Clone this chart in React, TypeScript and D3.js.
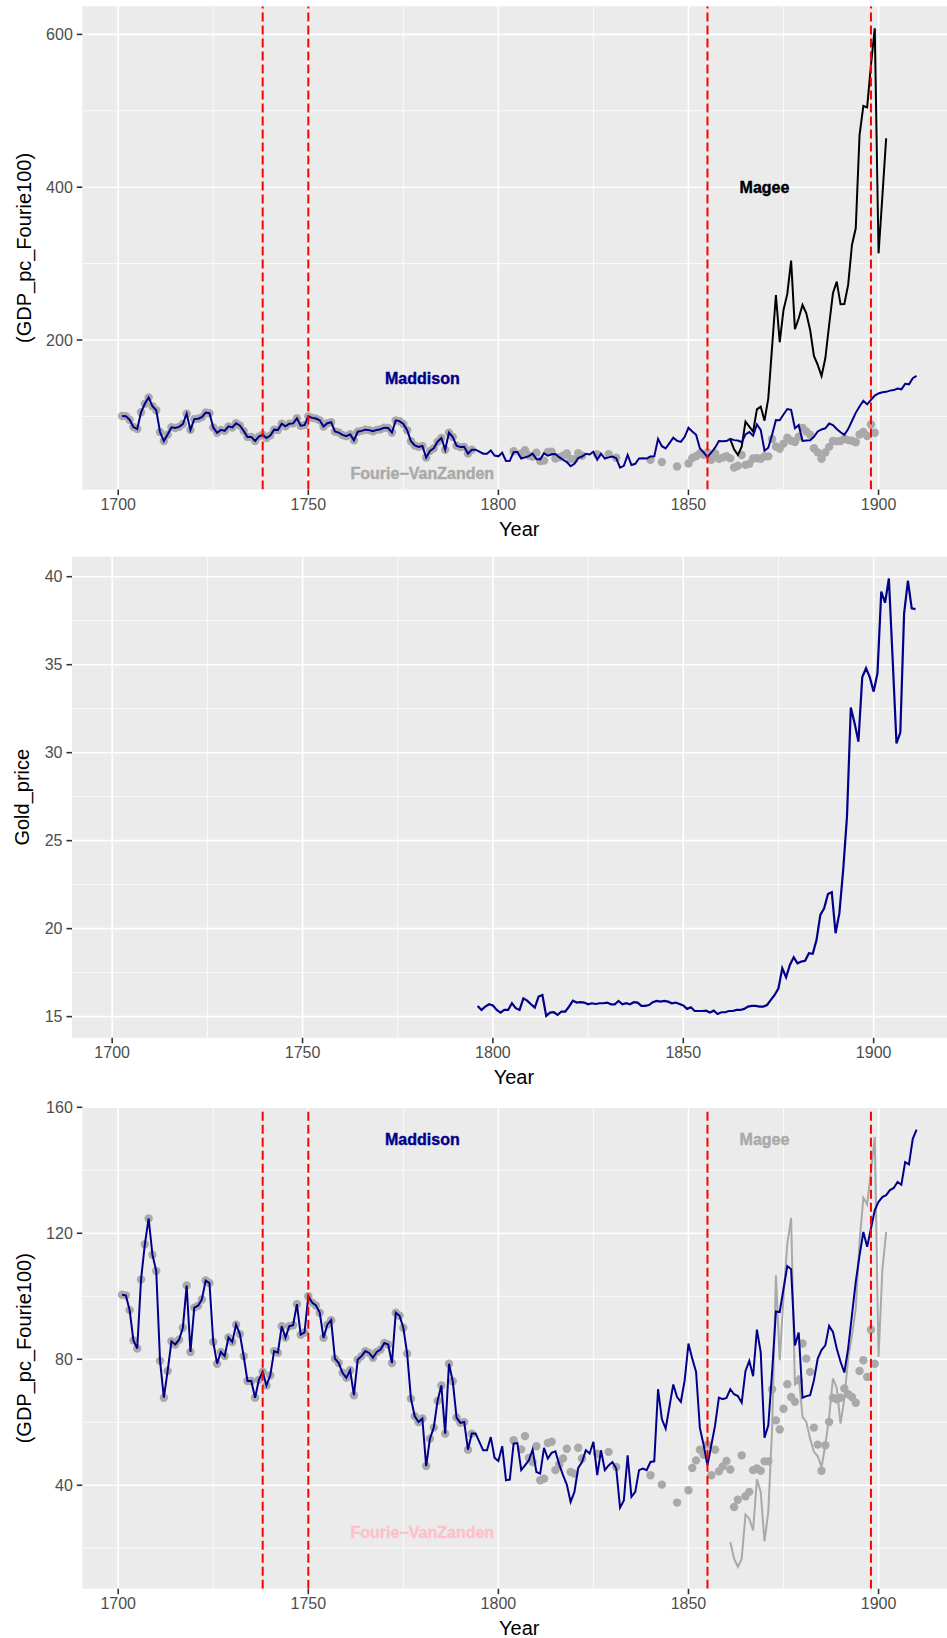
import React from "react";
import * as d3 from "d3";

// Maddison GDP per capita (Fourie100), yearly 1701-1910
const maddisonYears = d3.range(1701, 1911);
const maddison = [
  100.5, 100.3, 95.6, 86, 83.4, 105.3, 116.5, 124.7, 113.2, 108,
  79.5, 67.8, 76.3, 85.7, 84.7, 86.2, 90, 103.4, 82.3, 96.4,
  97, 99, 105, 104.2, 85.5, 78.6, 82.3, 81, 86.9, 85.5,
  91, 88, 81, 73.1, 73.1, 67.8, 73.5, 76, 71.7, 74.9,
  82.6, 82.1, 90.5, 86.9, 90.5, 90.8, 97.5, 87.8, 88.5, 100,
  98, 97.1, 94.8, 86.8, 91, 92.4, 80.2, 78.8, 75.7, 74.1,
  76.5, 68.6, 79.9, 81, 82.6, 82, 80.5, 82.3, 83.1, 85.2,
  84.7, 78.8, 94.8, 93.8, 90, 81.8, 67.5, 61.9, 60.1, 61.2,
  46.1, 54.8, 58.3, 66.8, 71.7, 56.4, 78.6, 73, 61.5, 59.8,
  60.1, 51.3, 56.4, 56.4, 53.8, 51.1, 51.1, 55.3, 48.7, 47.7,
  52.4, 41.6, 41.8, 53.2, 53.4, 44.8, 46.3, 47.9, 51.3, 44.2,
  43.7, 51.9, 48.5, 50.3, 50.8, 46.6, 43.2, 40.2, 34.7, 37.9,
  45.5, 47.4, 51.1, 50.1, 53.8, 43.2, 51.1, 44.8, 46.3, 47.4,
  45.3, 32.9, 35.2, 49.5, 36.3, 37.9, 44.8, 45.3, 44.8, 47.4,
  47.6, 70.5, 61, 58, 65, 72, 68, 66.5, 73.3, 85,
  80.2, 76, 58.2, 52.7, 46.3, 52.7, 59, 67.8, 67.3, 67.7,
  70.5, 68.9, 68.3, 66.2, 76.3, 79.5, 74.6, 89.4, 82.3, 55.1,
  59, 76, 95.2, 95, 102.4, 109.6, 108.6, 84.4, 88.5, 67.8,
  68.3, 68.6, 73.3, 80.2, 82.9, 84.4, 90.6, 88.7, 83.4, 79.2,
  75.8, 83.4, 94, 104.6, 113, 120.4, 115.7, 121.5, 127.3, 130,
  131.5, 132.1, 133.7, 134.4, 136.3, 135.4, 142.6, 141.9, 150, 152.9,
];

// Fourie-VanZanden points
const fourieYears = [
  ...d3.range(1701, 1794),
  1804, 1806, 1807, 1808, 1809, 1810, 1811, 1812, 1813, 1814,
  1815, 1816, 1817, 1818, 1819, 1820, 1821, 1822, 1826, 1829,
  1831, 1840, 1843, 1847, 1850,
  ...d3.range(1851, 1900),
];
const fourie = [
  100.5, 100.3, 95.6, 86, 83.4, 105.3, 116.5, 124.7, 113.2, 108,
  79.5, 67.8, 76.3, 85.7, 84.7, 86.2, 90, 103.4, 82.3, 96.4,
  97, 99, 105, 104.2, 85.5, 78.6, 82.3, 81, 86.9, 85.5,
  91, 88, 81, 73.1, 73.1, 67.8, 73.5, 76, 71.7, 74.9,
  82.6, 82.1, 90.5, 86.9, 90.5, 90.8, 97.5, 87.8, 88.5, 100,
  98, 97.1, 94.8, 86.8, 91, 92.4, 80.2, 78.8, 75.7, 74.1,
  76.5, 68.6, 79.9, 81, 82.6, 82, 80.5, 82.3, 83.1, 85.2,
  84.7, 78.8, 94.8, 93.8, 90, 81.8, 67.5, 61.9, 60.1, 61.2,
  46.1, 54.8, 58.3, 66.8, 71.7, 56.4, 78.6, 73, 61.5, 59.8,
  60.1, 51.3, 56.4,
  54.3, 51.4, 55.6, 48.7, 47.4, 52.4, 41.6, 42.1, 53.4, 53.8,
  44.8, 46.6, 48.5, 51.6, 44.2, 43.7, 51.9, 48.5, 50, 50.6,
  45.8, 43.2, 40.2, 34.5, 38.4,
  45.5, 47.9, 51.3, 49.7, 52.9, 43.2, 51.3, 44.4, 46, 47.7, 45,
  33.1, 35.4, 49.5, 36.5, 37.9, 44.8, 45.3, 44.6, 47.6, 47.6,
  70.5, 60.6, 57.7, 64.3, 72.1, 68, 66.5, 73.3, 85, 80.2,
  76, 58.3, 52.9, 44.6, 52.7, 60.1, 67.8, 67.3, 67.8, 70.7,
  68.9, 68, 66.2, 76.3, 79.7, 74.4, 89.4, 78.6,
];

// Magee series, 1861-1902 (top panel and bottom panel versions)
const mageeYears = d3.range(1861, 1903);
const mageeTop = [
  70, 56.9, 49.5, 60.4, 93.1, 86.6, 80, 109.2, 112.8, 94.4,
  123.6, 191.3, 258.9, 197, 239.3, 260.3, 303.8, 214, 228.4, 245.8,
  234.9, 213.1, 179.1, 167.3, 152.9, 176, 219.6, 261.1, 276.4, 246.7,
  247.1, 272, 324.3, 346.2, 468.3, 506.3, 504.5, 560, 608, 313.4,
  387.6, 464,
];
const mageeBottom = [
  22, 16.7, 14.1, 16.7, 30.7, 29.4, 25.7, 41.9, 37.9, 22.2,
  31.5, 58, 106.7, 79.7, 100, 116.7, 124.9, 71.7, 74.9, 61.7,
  60.1, 54.8, 50.6, 49.2, 45.8, 52.7, 61.7, 73.9, 70.9, 59.6,
  67.5, 80.2, 87.6, 96.1, 117.2, 131.3, 129.2, 139.5, 150.6, 80.7,
  108.3, 120.4,
];

// Gold price, 1796-1911
const goldYears = d3.range(1796, 1912);
const goldPrice = [
  15.61, 15.38, 15.57, 15.7, 15.63, 15.38, 15.23, 15.38, 15.38, 15.76,
  15.48, 15.38, 16.04, 15.91, 15.7, 15.51, 16.14, 16.23, 15.04, 15.23,
  15.25, 15.1, 15.29, 15.29, 15.57, 15.91, 15.8, 15.82, 15.8, 15.7,
  15.76, 15.72, 15.76, 15.76, 15.8, 15.7, 15.7, 15.89, 15.7, 15.76,
  15.7, 15.82, 15.8, 15.61, 15.61, 15.66, 15.82, 15.89, 15.85, 15.89,
  15.85, 15.76, 15.8, 15.72, 15.63, 15.44, 15.53, 15.32, 15.32, 15.32,
  15.34, 15.23, 15.34, 15.15, 15.25, 15.25, 15.32, 15.32, 15.38, 15.38,
  15.44, 15.57, 15.61, 15.61, 15.57, 15.57, 15.66, 15.95, 16.23, 16.61,
  17.75, 17.24, 17.94, 18.37, 18.03, 18.13, 18.17, 18.6, 18.57, 19.36,
  20.78, 21.16, 21.97, 22.07, 19.74, 20.88, 23.34, 26.37, 32.56, 31.67,
  30.63, 34.28, 34.8, 34.28, 33.47, 34.51, 39.15, 38.52, 39.9, 35.27,
  30.53, 31.14, 37.92, 39.77, 38.2, 38.16,
];

const eventYears = [1738, 1750, 1855, 1898];
const yearTicks = [1700, 1750, 1800, 1850, 1900];
const gdpTopTicks = [200, 400, 600];
const goldTicks = [15, 20, 25, 30, 35, 40];
const gdpBottomTicks = [40, 80, 120, 160];

const FONT = "'Liberation Sans', Arial, Helvetica, sans-serif";
const NAVY = "#00008B";
const DARKGRAY = "#A9A9A9";

const expand = (vals: number[]): [number, number] => {
  const [lo, hi] = d3.extent(vals) as [number, number];
  const pad = (hi - lo) * 0.05;
  return [lo - pad, hi + pad];
};

function minorBreaks(ticks: number[]) {
  const step = ticks[1] - ticks[0];
  return [ticks[0] - step / 2, ...ticks.map((t) => t + step / 2)];
}

// scales
const xGdp = d3.scaleLinear().domain(expand(maddisonYears)).range([82.3, 956.3]);
const xGold = d3.scaleLinear().domain(expand([1700, ...goldYears])).range([72, 955.7]);
const yTop = d3
  .scaleLinear()
  .domain(expand([...maddison, ...fourie, ...mageeTop]))
  .range([489.6, 6.3]);
const yGold = d3.scaleLinear().domain(expand(goldPrice)).range([1037.8, 556.6]);
const yBottom = d3
  .scaleLinear()
  .domain(expand([...maddison, ...fourie, ...mageeBottom]))
  .range([1588.7, 1107.8]);

type PanelProps = {
  id: string;
  x: d3.ScaleLinear<number, number>;
  y: d3.ScaleLinear<number, number>;
  yTicks: number[];
  yTitle: string;
  yTitleX: number;
  children?: React.ReactNode;
};

function Panel({ id, x, y, yTicks, yTitle, yTitleX, children }: PanelProps) {
  const [left, right] = x.range();
  const [bottom, top] = y.range();
  const [dx0, dx1] = x.domain();
  const [dy0, dy1] = y.domain();
  const xMinor = minorBreaks(yearTicks).filter((v) => v > dx0 && v < dx1);
  const yMinor = minorBreaks(yTicks).filter((v) => v > dy0 && v < dy1);
  const xMajor = yearTicks.filter((v) => v >= dx0 && v <= dx1);
  return (
    <g>
      <defs>
        <clipPath id={id}>
          <rect x={left} y={top} width={right - left} height={bottom - top} />
        </clipPath>
      </defs>
      <rect x={left} y={top} width={right - left} height={bottom - top} fill="#EBEBEB" />
      <g stroke="#FFFFFF" strokeWidth={0.8}>
        {xMinor.map((v) => (
          <line key={"xm" + v} x1={x(v)} x2={x(v)} y1={top} y2={bottom} />
        ))}
        {yMinor.map((v) => (
          <line key={"ym" + v} x1={left} x2={right} y1={y(v)} y2={y(v)} />
        ))}
      </g>
      <g stroke="#FFFFFF" strokeWidth={1.6}>
        {xMajor.map((v) => (
          <line key={"xM" + v} x1={x(v)} x2={x(v)} y1={top} y2={bottom} />
        ))}
        {yTicks.map((v) => (
          <line key={"yM" + v} x1={left} x2={right} y1={y(v)} y2={y(v)} />
        ))}
      </g>
      <g clipPath={`url(#${id})`}>{children}</g>
      {/* axes */}
      <g stroke="#333333" strokeWidth={1.6}>
        {xMajor.map((v) => (
          <line key={"xt" + v} x1={x(v)} x2={x(v)} y1={bottom} y2={bottom + 5.5} />
        ))}
        {yTicks.map((v) => (
          <line key={"yt" + v} x1={left - 5.5} x2={left} y1={y(v)} y2={y(v)} />
        ))}
      </g>
      <g fontFamily={FONT} fontSize={16} fill="#4D4D4D">
        {xMajor.map((v) => (
          <text key={"xl" + v} x={x(v)} y={bottom + 20.5} textAnchor="middle">
            {v}
          </text>
        ))}
        {yTicks.map((v) => (
          <text key={"yl" + v} x={left - 9.5} y={y(v)} dy="0.36em" textAnchor="end">
            {v}
          </text>
        ))}
      </g>
      <text
        x={(left + right) / 2}
        y={bottom + 46}
        textAnchor="middle"
        fontFamily={FONT}
        fontSize={20}
        fill="#000000"
      >
        Year
      </text>
      <text
        transform={`translate(${yTitleX},${(top + bottom) / 2}) rotate(-90)`}
        dy="0.36em"
        textAnchor="middle"
        fontFamily={FONT}
        fontSize={20}
        fill="#000000"
      >
        {yTitle}
      </text>
    </g>
  );
}

function EventLines({ x, y }: { x: d3.ScaleLinear<number, number>; y: d3.ScaleLinear<number, number> }) {
  const [bottom, top] = y.range();
  return (
    <g stroke="#FF0000" strokeWidth={2} strokeDasharray="9,4">
      {eventYears.map((yr) => (
        <line key={yr} x1={x(yr)} x2={x(yr)} y1={bottom} y2={top} />
      ))}
    </g>
  );
}

function Label({ x, y, text, color }: { x: number; y: number; text: string; color: string }) {
  return (
    <text
      x={x}
      y={y}
      dy="0.36em"
      textAnchor="middle"
      fontFamily={FONT}
      fontWeight="bold"
      fontSize={16}
      fill={color}
      stroke={color}
      strokeWidth={0.4}
    >
      {text}
    </text>
  );
}

function makeLine(x: d3.ScaleLinear<number, number>, y: d3.ScaleLinear<number, number>, xs: number[], ys: number[]) {
  const gen = d3
    .line<number>()
    .x((_, i) => x(xs[i]))
    .y((d) => y(d));
  return gen(ys) || "";
}

export default function App() {
  return (
    <div style={{ position: "absolute", left: 0, top: 0 }}>
      <svg width={947} height={1638} style={{ display: "block", background: "#FFFFFF" }}>
        {/* Panel 1: GDP, all series */}
        <Panel id="clip-top" x={xGdp} y={yTop} yTicks={gdpTopTicks} yTitle="(GDP_pc_Fourie100)" yTitleX={23.3}>
          <g fill={DARKGRAY}>
            {fourie.map((v, i) => (
              <circle key={i} cx={xGdp(fourieYears[i])} cy={yTop(v)} r={4.2} />
            ))}
          </g>
          <path d={makeLine(xGdp, yTop, mageeYears, mageeTop)} fill="none" stroke="#000000" strokeWidth={2} />
          <path d={makeLine(xGdp, yTop, maddisonYears, maddison)} fill="none" stroke={NAVY} strokeWidth={2} />
          <EventLines x={xGdp} y={yTop} />
          <Label x={xGdp(1780)} y={yTop(150)} text="Maddison" color={NAVY} />
          <Label x={xGdp(1870)} y={yTop(400)} text="Magee" color="#000000" />
          <Label x={xGdp(1780)} y={yTop(25)} text={"Fourie\u2212VanZanden"} color={DARKGRAY} />
        </Panel>

        {/* Panel 2: gold price */}
        <Panel id="clip-gold" x={xGold} y={yGold} yTicks={goldTicks} yTitle="Gold_price" yTitleX={21.7}>
          <path d={makeLine(xGold, yGold, goldYears, goldPrice)} fill="none" stroke={NAVY} strokeWidth={2.2} />
        </Panel>

        {/* Panel 3: GDP, zoomed */}
        <Panel id="clip-bottom" x={xGdp} y={yBottom} yTicks={gdpBottomTicks} yTitle="(GDP_pc_Fourie100)" yTitleX={23.3}>
          <g fill={DARKGRAY}>
            {fourie.map((v, i) => (
              <circle key={i} cx={xGdp(fourieYears[i])} cy={yBottom(v)} r={4.2} />
            ))}
          </g>
          <path d={makeLine(xGdp, yBottom, mageeYears, mageeBottom)} fill="none" stroke={DARKGRAY} strokeWidth={2} />
          <path d={makeLine(xGdp, yBottom, maddisonYears, maddison)} fill="none" stroke={NAVY} strokeWidth={2} />
          <EventLines x={xGdp} y={yBottom} />
          <Label x={xGdp(1780)} y={yBottom(150)} text="Maddison" color={NAVY} />
          <Label x={xGdp(1870)} y={yBottom(150)} text="Magee" color={DARKGRAY} />
          <Label x={xGdp(1780)} y={yBottom(25)} text={"Fourie\u2212VanZanden"} color="#FFC0CB" />
        </Panel>
      </svg>
    </div>
  );
}
